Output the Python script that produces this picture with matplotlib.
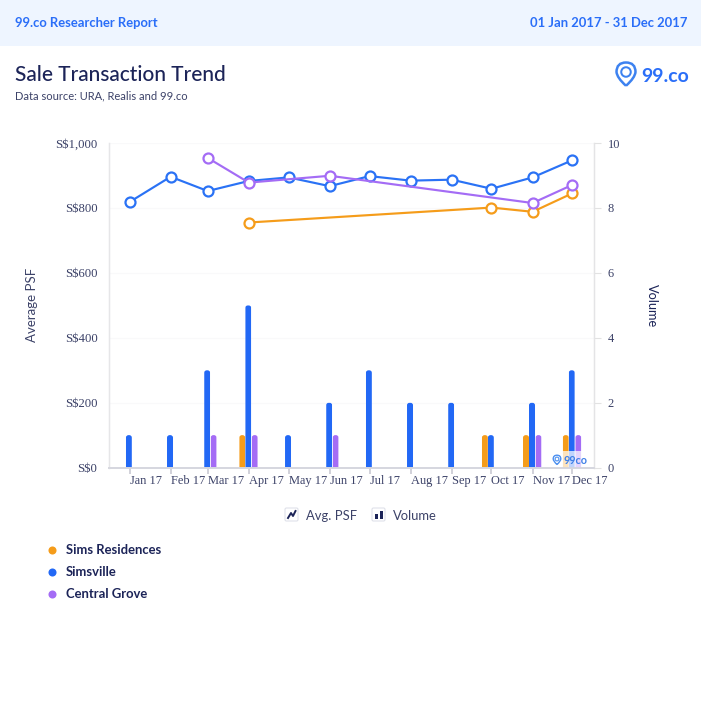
import numpy as np
import pandas as pd
import matplotlib
matplotlib.use('Agg')
from matplotlib import pyplot as plt
from matplotlib import dates as mdates
from matplotlib.path import Path
from matplotlib.patches import PathPatch, Rectangle, FancyBboxPatch, Circle


months = ['2017-01-01', '2017-02-01', '2017-03-01', '2017-04-01', '2017-05-01', '2017-06-01',
          '2017-07-01', '2017-08-01', '2017-09-01', '2017-10-01', '2017-11-01', '2017-12-01']
month_labels = ['Jan 17', 'Feb 17', 'Mar 17', 'Apr 17', 'May 17', 'Jun 17',
                'Jul 17', 'Aug 17', 'Sep 17', 'Oct 17', 'Nov 17', 'Dec 17']

names = ['Sims Residences', 'Simsville', 'Central Grove']
nan = float('nan')
psf_sims = [nan, nan, nan, 755, nan, nan, nan, nan, nan, 801, 788, 845]
psf_simsville = [818, 896, 852, 883, 894, 867, 898, 884, 887, 859, 894, 947]
psf_central = [nan, nan, 954, 878, nan, 899, nan, nan, nan, nan, 815, 871]
vol_sims = [0, 0, 0, 1, 0, 0, 0, 0, 0, 1, 1, 1]
vol_simsville = [1, 1, 3, 5, 1, 2, 3, 2, 2, 1, 2, 3]
vol_central = [0, 0, 1, 1, 0, 1, 0, 0, 0, 0, 1, 1]

psf_ticks = [0, 200, 400, 600, 800, 1000]
psf_tick_labels = ['S$0', 'S$200', 'S$400', 'S$600', 'S$800', 'S$1,000']
vol_ticks = [0, 2, 4, 6, 8, 10]

ORANGE = '#f59c1a'
BLUE = '#2268f5'
HEAD_BLUE = '#2a6ef8'
LINE_BLUE = '#2a72f5'
PURPLE = '#a46cf5'
NAVY = '#1c2458'
TEXT = '#3c4268'
SANS = ['Lato', 'DejaVu Sans']
SERIF = ['Liberation Serif', 'DejaVu Serif']

W, H = 701, 719
PX_PER_DAY = 1.326


def px_box(left, top, right, bottom):
    return [left / W, 1 - bottom / H, (right - left) / W, (bottom - top) / H]


def draw_pin(ax, cx, cy, r, color, lw=1.6):
    # map pin outline with an inner ring, the 99.co logo mark
    verts = [(cx, cy + 1.45 * r), (cx - 0.95 * r, cy + 0.6 * r), (cx - r, cy),
             (cx - r, cy - r), (cx, cy - r), (cx + r, cy - r), (cx + r, cy),
             (cx + 0.95 * r, cy + 0.6 * r), (cx, cy + 1.45 * r)]
    codes = [Path.MOVETO, Path.CURVE3, Path.CURVE3, Path.CURVE3, Path.CURVE3,
             Path.CURVE3, Path.CURVE3, Path.CURVE3, Path.CURVE3]
    ax.add_patch(PathPatch(Path(verts, codes), fc='none', ec=color, lw=lw, zorder=6))
    ax.add_patch(Circle((cx, cy), 0.5 * r, fc='none', ec=color, lw=lw * 0.8, zorder=6))


def rounded_tops(ax, bars, radius_px):
    # clip each bar to a shape with rounded top corners
    for rect in bars:
        h = rect.get_height()
        if h == 0:
            rect.set_visible(False)
            continue
        rect.set_snap(False)
        x0 = rect.get_x()
        w = rect.get_width()
        ry = radius_px / (324.5 / 10)
        verts = [(x0, 0), (x0, h - ry), (x0, h), (x0 + w / 2, h),
                 (x0 + w, h), (x0 + w, h - ry), (x0 + w, 0), (x0, 0)]
        codes = [Path.MOVETO, Path.LINETO, Path.CURVE3, Path.CURVE3,
                 Path.CURVE3, Path.CURVE3, Path.LINETO, Path.CLOSEPOLY]
        rect.set_clip_path(Path(verts, codes), ax.transData)


fig = plt.figure(figsize=(W / 100, H / 100), dpi=100, facecolor='white')

# page furniture in pixel coordinates
page = fig.add_axes([0, 0, 1, 1])
page.set_xlim(0, W)
page.set_ylim(H, 0)
page.axis('off')
page.add_patch(Rectangle((0, 0), W, 45.5, fc='#eef5ff', ec='none'))
page.text(15, 23, '99.co Researcher Report', color=HEAD_BLUE, fontsize=9.4, fontweight='bold',
          family=SANS, va='center')
page.text(687.5, 23, '01 Jan 2017 - 31 Dec 2017', color=HEAD_BLUE, fontsize=9.4, fontweight='bold',
          family=SANS, va='center', ha='right')
page.text(15, 75, 'Sale Transaction Trend', color=NAVY, fontsize=15, family=SANS, va='center',
          fontweight='medium')
page.text(15, 95.5, 'Data source: URA, Realis and 99.co', color=TEXT, fontsize=8, family=SANS, va='center')
draw_pin(page, 626, 72, 9.5, '#3d82f0', lw=1.8)
page.text(641, 76, '99.co', color=HEAD_BLUE, fontsize=14, fontweight='bold', family=SANS, va='center')

# bottom legends
page.add_patch(FancyBboxPatch((285, 508), 13, 13, boxstyle='round,pad=0,rounding_size=1.5',
                              fc='white', ec='#dfe1ea', lw=0.8))
page.plot([288, 291, 293, 295.5], [518, 513, 516, 511], color=NAVY, lw=1.4)
page.text(306, 515.5, 'Avg. PSF', color=TEXT, fontsize=9.4, family=SANS, va='center')
page.add_patch(FancyBboxPatch((372, 508), 13, 13, boxstyle='round,pad=0,rounding_size=1.5',
                              fc='white', ec='#dfe1ea', lw=0.8))
page.add_patch(Rectangle((375, 514), 3, 5, fc=NAVY, ec='none'))
page.add_patch(Rectangle((379.5, 510.5), 3, 8.5, fc=NAVY, ec='none'))
page.text(393, 515.5, 'Volume', color=TEXT, fontsize=9.4, family=SANS, va='center')
for label, color, y in zip(names, [ORANGE, BLUE, PURPLE], [550, 572, 594]):
    page.plot([52], [y], 'o', color=color, ms=5.8, mew=0)
    page.text(66, y, label, color=NAVY, fontsize=9.4, fontweight='bold', family=SANS, va='center')

# chart
x = mdates.date2num(pd.to_datetime(months))
px = 1 / PX_PER_DAY
ax_vol = fig.add_axes(px_box(108.5, 143, 594, 467.5))
ax_psf = ax_vol.twinx()
ax_vol.set_zorder(1)
ax_psf.set_zorder(2)
ax_psf.patch.set_visible(False)
ax_vol.patch.set_visible(False)

for values, offset, color in [(vol_sims, -6.6, ORANGE), (vol_simsville, -0.6, BLUE), (vol_central, 5.9, PURPLE)]:
    bars = ax_vol.bar(x + offset * px, values, width=6 * px, color=color, linewidth=0, zorder=3)
    rounded_tops(ax_vol, bars, 2.6)

for values, color in [(psf_sims, ORANGE), (psf_simsville, LINE_BLUE), (psf_central, PURPLE)]:
    values = np.array(values, dtype=float)
    keep = ~np.isnan(values)
    ax_psf.plot(x[keep], values[keep], '-o', color=color, lw=1.55, ms=7.2, mfc='white', mec=color,
                mew=1.6, clip_on=False, zorder=4)

ax_vol.set_xlim(x[0] - 21 * px, x[0] + 464.5 * px)
ax_vol.set_ylim(0, 10)
ax_psf.set_ylim(0, 1000)

ax_vol.set_xticks(x)
ax_vol.set_xticklabels(month_labels, ha='left', family=SERIF, fontsize=8.9, color=TEXT)
ax_vol.tick_params(axis='x', length=4, width=1.2, color='#c9cad3', pad=1.5)

ax_psf.yaxis.tick_left()
ax_psf.yaxis.set_label_position('left')
ax_psf.set_yticks(psf_ticks)
ax_psf.set_yticklabels(psf_tick_labels, family=SERIF, fontsize=9.2, color=TEXT)
ax_psf.tick_params(axis='y', length=0, pad=8)
ax_psf.set_ylabel('Average PSF', family=SANS, fontsize=9.5, color=TEXT, va='center')
ax_psf.yaxis.set_label_coords((32 - 108.5) / 485.5, 0.5)

ax_vol.yaxis.tick_right()
ax_vol.yaxis.set_label_position('right')
ax_vol.set_yticks(vol_ticks)
ax_vol.set_yticklabels([str(v) for v in vol_ticks], family=SERIF, fontsize=8.9, color=TEXT)
ax_vol.tick_params(axis='y', length=5, width=0.8, color='#e2e2e2', pad=5)
ax_vol.set_ylabel('Volume', family=SANS, fontsize=9.2, color=NAVY, rotation=-90, va='center')
ax_vol.yaxis.set_label_coords((652 - 108.5) / 485.5, 0.5)
ax_vol.grid(axis='y', color='#f9f9fa', lw=0.8, zorder=0)
ax_vol.set_axisbelow(True)

for ax in (ax_vol, ax_psf):
    ax.spines['top'].set_visible(False)
    ax.spines['left'].set_color('#e6e6e8')
    ax.spines['right'].set_color('#e4e4e6')
    ax.spines['bottom'].set_color('#d6d7df')
    ax.spines['bottom'].set_linewidth(1.3)
    ax.spines['left'].set_linewidth(0.9)
    ax.spines['right'].set_linewidth(0.9)

# watermark over the last bars
mark = fig.add_axes([0, 0, 1, 1], zorder=5)
mark.set_xlim(0, W)
mark.set_ylim(H, 0)
mark.axis('off')
mark.add_patch(Rectangle((549, 451), 39, 16, fc='white', ec='none', alpha=0.72))
draw_pin(mark, 557, 459, 3.8, '#4b8ff0', lw=1)
mark.text(564, 460.5, '99co', color='#3e7fe8', fontsize=7.8, fontweight='bold', family=SANS, va='center')

fig.savefig('out.png', dpi=100)
